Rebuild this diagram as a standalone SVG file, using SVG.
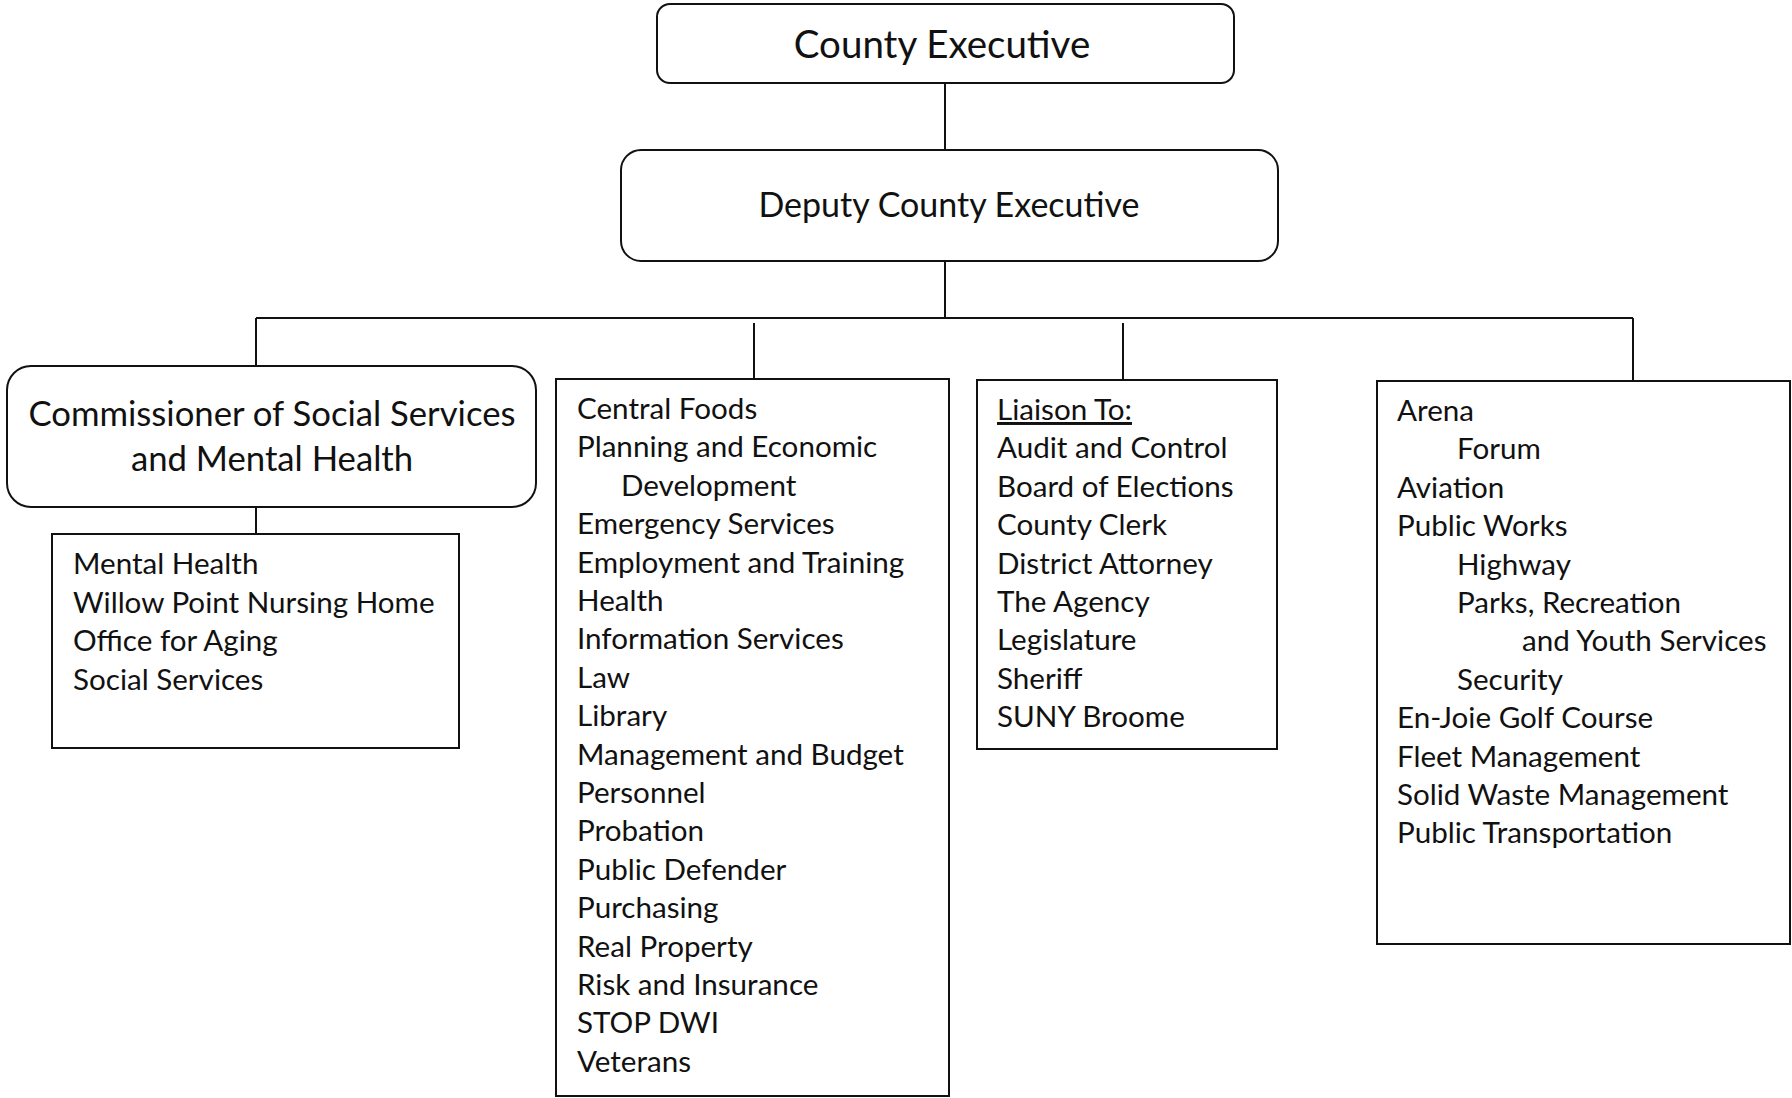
<svg xmlns="http://www.w3.org/2000/svg" width="1792" height="1098" viewBox="0 0 1792 1098">
<style>
  .box { fill: #fff; stroke: #111; stroke-width: 2; }
  .conn { stroke: #111; stroke-width: 2; fill: none; }
  .title { font-family: Lato, "Liberation Sans", sans-serif; font-size: 34.7px; fill: #111; text-anchor: middle; }
  .item { font-family: Lato, "Liberation Sans", sans-serif; font-size: 29.6px; fill: #111; }
</style>
<rect width="1792" height="1098" fill="#fff"/>
<g id="connectors">
  <line class="conn" x1="945" y1="83" x2="945" y2="150"/>
  <line class="conn" x1="945" y1="261" x2="945" y2="318"/>
  <line class="conn" x1="256" y1="318" x2="1633" y2="318"/>
  <line class="conn" x1="256" y1="318" x2="256" y2="366"/>
  <line class="conn" x1="754" y1="323" x2="754" y2="379"/>
  <line class="conn" x1="1123" y1="323" x2="1123" y2="380"/>
  <line class="conn" x1="1633" y1="318" x2="1633" y2="381"/>
  <line class="conn" x1="256" y1="507" x2="256" y2="534"/>
</g>
<g id="county-executive">
  <rect class="box" x="657" y="4" width="577" height="79" rx="13"/>
  <text class="title" x="942" y="58" style="font-size:38.5px">County Executive</text>
</g>
<g id="deputy-county-executive">
  <rect class="box" x="621" y="150" width="657" height="111" rx="20"/>
  <text class="title" x="949" y="217" style="font-size:34px">Deputy County Executive</text>
</g>
<g id="commissioner">
  <rect class="box" x="7" y="366" width="529" height="141" rx="24"/>
  <text class="title" x="272" y="426">Commissioner of Social Services</text>
  <text class="title" x="272" y="471">and Mental Health</text>
</g>
<g id="social-services-units">
  <rect class="box" x="52" y="534" width="407" height="214"/>
  <text class="item" x="73" y="574">Mental Health</text>
  <text class="item" x="73" y="612.5">Willow Point Nursing Home</text>
  <text class="item" x="73" y="651">Office for Aging</text>
  <text class="item" x="73" y="689.5">Social Services</text>
</g>
<g id="departments">
  <rect class="box" x="556" y="379" width="393" height="717"/>
  <text class="item" x="577" y="419">Central Foods</text>
  <text class="item" x="577" y="457.4">Planning and Economic</text>
  <text class="item" x="621" y="495.8">Development</text>
  <text class="item" x="577" y="534.2">Emergency Services</text>
  <text class="item" x="577" y="572.6">Employment and Training</text>
  <text class="item" x="577" y="611">Health</text>
  <text class="item" x="577" y="649.4">Information Services</text>
  <text class="item" x="577" y="687.8">Law</text>
  <text class="item" x="577" y="726.2">Library</text>
  <text class="item" x="577" y="764.6">Management and Budget</text>
  <text class="item" x="577" y="803">Personnel</text>
  <text class="item" x="577" y="841.4">Probation</text>
  <text class="item" x="577" y="879.8">Public Defender</text>
  <text class="item" x="577" y="918.2">Purchasing</text>
  <text class="item" x="577" y="956.6">Real Property</text>
  <text class="item" x="577" y="995">Risk and Insurance</text>
  <text class="item" x="577" y="1033.4">STOP DWI</text>
  <text class="item" x="577" y="1071.8">Veterans</text>
</g>
<g id="liaison">
  <rect class="box" x="977" y="380" width="300" height="369"/>
  <text class="item" x="997" y="420" text-decoration="underline">Liaison To:</text>
  <text class="item" x="997" y="458.4">Audit and Control</text>
  <text class="item" x="997" y="496.8">Board of Elections</text>
  <text class="item" x="997" y="535.2">County Clerk</text>
  <text class="item" x="997" y="573.6">District Attorney</text>
  <text class="item" x="997" y="612">The Agency</text>
  <text class="item" x="997" y="650.4">Legislature</text>
  <text class="item" x="997" y="688.8">Sheriff</text>
  <text class="item" x="997" y="727.2">SUNY Broome</text>
</g>
<g id="public-works">
  <rect class="box" x="1377" y="381" width="413" height="563"/>
  <text class="item" x="1397" y="421">Arena</text>
  <text class="item" x="1457" y="459.4">Forum</text>
  <text class="item" x="1397" y="497.8">Aviation</text>
  <text class="item" x="1397" y="536.2">Public Works</text>
  <text class="item" x="1457" y="574.6">Highway</text>
  <text class="item" x="1457" y="613">Parks, Recreation</text>
  <text class="item" x="1522" y="651.4">and Youth Services</text>
  <text class="item" x="1457" y="689.8">Security</text>
  <text class="item" x="1397" y="728.2">En-Joie Golf Course</text>
  <text class="item" x="1397" y="766.6">Fleet Management</text>
  <text class="item" x="1397" y="805">Solid Waste Management</text>
  <text class="item" x="1397" y="843.4">Public Transportation</text>
</g>
</svg>
